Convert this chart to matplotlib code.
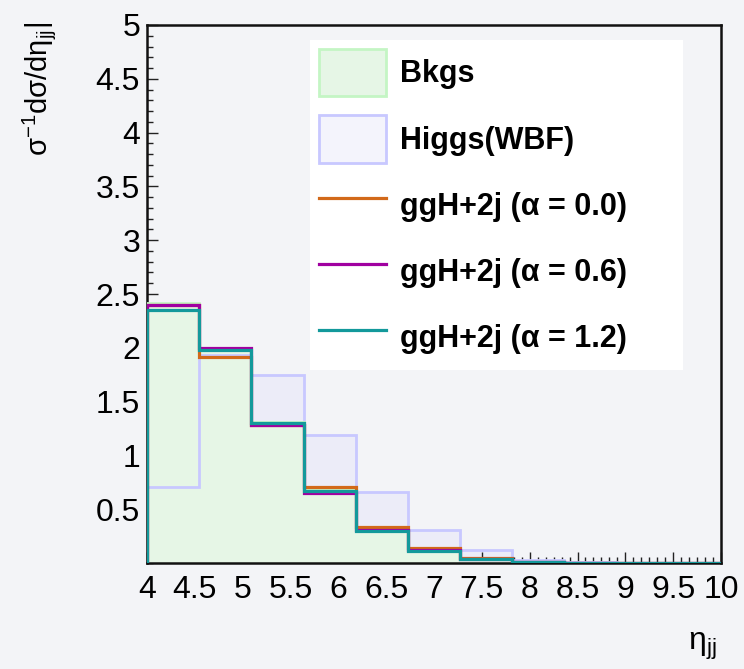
import matplotlib
matplotlib.use('Agg')
import matplotlib.pyplot as plt
from matplotlib.patches import Patch
from matplotlib.lines import Line2D
from matplotlib.ticker import MultipleLocator, FixedLocator
import numpy as np

plt.rcParams['font.family'] = ['Liberation Sans', 'DejaVu Sans']
plt.rcParams['mathtext.fontset'] = 'custom'
plt.rcParams['mathtext.rm'] = 'Liberation Sans'
plt.rcParams['mathtext.it'] = 'Liberation Sans'
plt.rcParams['mathtext.default'] = 'regular'

# eta_jj binning, 11 bins between 4 and 10
edges = np.linspace(4, 10, 12)
bkgs = [2.42, 1.99, 1.31, 0.68, 0.31, 0.12, 0.04, 0.006, 0.003, 0.002, 0.001]
higgs_wbf = [0.71, 1.93, 1.75, 1.19, 0.66, 0.31, 0.12, 0.03, 0.006, 0.003, 0.002]
ggh_a00 = [2.40, 1.91, 1.28, 0.71, 0.33, 0.14, 0.045, 0.006, 0.003, 0.002, 0.001]
ggh_a06 = [2.40, 1.995, 1.28, 0.65, 0.31, 0.125, 0.04, 0.005, 0.003, 0.002, 0.001]
ggh_a12 = [2.35, 1.98, 1.30, 0.67, 0.30, 0.11, 0.04, 0.005, 0.003, 0.002, 0.001]

labels = ['Bkgs', 'Higgs(WBF)', 'ggH+2j (\u03b1 = 0.0)', 'ggH+2j (\u03b1 = 0.6)', 'ggH+2j (\u03b1 = 1.2)']

bg = '#f3f4f7'
c_bkg_fill, c_bkg_edge = '#e6f6e6', '#c4f5c4'
c_wbf_fill, c_wbf_edge = '#ececf8', '#c8c8ff'
c_a00, c_a06, c_a12 = '#d2691a', '#a000a0', '#13999b'

fig = plt.figure(figsize=(7.44, 6.69), dpi=100, facecolor=bg)
ax = fig.add_axes([147/744, 1 - 563/669, 574/744, 538/669])
ax.set_facecolor(bg)

# filled histograms first, outlines on top
ax.stairs(higgs_wbf, edges, fill=True, color=c_wbf_fill, zorder=1)
ax.stairs(bkgs, edges, fill=True, color=c_bkg_fill, zorder=2)
ax.stairs(higgs_wbf, edges, color=c_wbf_edge, lw=2.0, zorder=3)
ax.stairs(bkgs, edges, color=c_bkg_edge, lw=2.0, zorder=3)
ax.stairs(ggh_a00, edges, color=c_a00, lw=2.3, zorder=4)
ax.stairs(ggh_a06, edges, color=c_a06, lw=2.3, zorder=5)
ax.stairs(ggh_a12, edges, color=c_a12, lw=2.3, zorder=6)

ax.set_xlim(4, 10)
ax.set_ylim(0, 5)
ax.xaxis.set_major_locator(MultipleLocator(0.5))
ax.xaxis.set_minor_locator(MultipleLocator(0.5 / 6))
ax.yaxis.set_major_locator(FixedLocator(np.arange(0.5, 5.01, 0.5)))
ax.yaxis.set_minor_locator(MultipleLocator(0.1))
ax.xaxis.set_major_formatter(plt.FuncFormatter(lambda v, p: f'{v:g}'))
ax.yaxis.set_major_formatter(plt.FuncFormatter(lambda v, p: f'{v:g}'))
ax.tick_params(which='both', direction='in', top=False, right=False, labelsize=23, color='#222222')
ax.tick_params(which='major', length=8, width=1.0)
ax.tick_params(which='minor', length=4, width=1.0)
ax.tick_params(axis='x', pad=9)
ax.tick_params(axis='y', pad=5)
for s in ax.spines.values():
    s.set_linewidth(1.8)
    s.set_color('#111111')

fig.text(20/744, 1 - 22/669, r'$\sigma^{-1}d\sigma/d\eta_{jj}|$', rotation=90,
         ha='left', va='top', fontsize=21)
fig.text(717/744, 1 - 650/669, r'$\eta_{jj}$', ha='right', va='baseline', fontsize=23)

handles = [
    Patch(facecolor=c_bkg_fill, edgecolor=c_bkg_edge, lw=2),
    Patch(facecolor='#f4f4fc', edgecolor=c_wbf_edge, lw=2),
    Line2D([], [], color=c_a00, lw=2.3),
    Line2D([], [], color=c_a06, lw=2.3),
    Line2D([], [], color=c_a12, lw=2.3),
]
leg = fig.legend(handles, labels, loc='upper left',
                 bbox_to_anchor=(310/744, 1 - 377/669, 373/744, 337/669),
                 mode='expand', prop={'weight': 'bold', 'size': 22},
                 frameon=True, fancybox=False, facecolor='white', edgecolor='none',
                 framealpha=1, handlelength=2.2, handleheight=2.0,
                 handletextpad=0.45, labelspacing=0.62, borderpad=0.3,
                 borderaxespad=0)

fig.savefig('out.png', dpi=100, facecolor=bg)
